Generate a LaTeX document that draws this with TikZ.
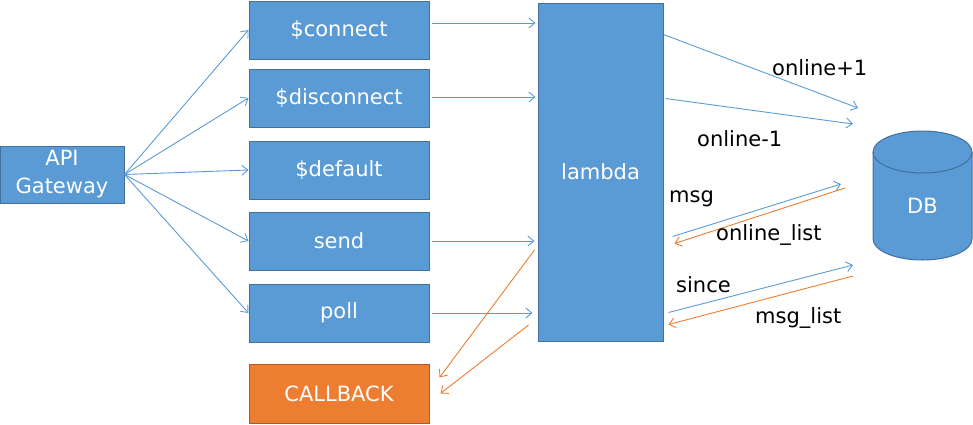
\documentclass[tikz,border=0pt]{standalone}
\usepackage{fontspec}
\setmainfont{DejaVu Sans}
\usetikzlibrary{arrows.meta}
\definecolor{boxblue}{HTML}{5B9BD5}
\definecolor{boxedge}{HTML}{41719C}
\definecolor{boxorange}{HTML}{ED7D31}
\definecolor{orangeedge}{HTML}{AE5A21}
\tikzset{
  box/.style={rectangle, draw=boxedge, fill=boxblue, line width=1pt, text=white,
    minimum width=180pt, minimum height=58pt, inner sep=0pt, align=center,
    font=\fontsize{21}{28}\selectfont},
  obox/.style={box, draw=orangeedge, fill=boxorange},
  lbl/.style={anchor=base west, inner sep=0pt, text=black, font=\fontsize{21}{24}\selectfont},
  barrow/.style={draw=boxblue, line width=0.9pt, -{Straight Barb[length=6pt,width=10pt]}},
  oarrow/.style={draw=boxorange, line width=0.9pt, -{Straight Barb[length=6pt,width=10pt]}},
}
\begin{document}
\begin{tikzpicture}[x=1pt,y=-1pt]
\useasboundingbox (0,0) rectangle (973,424);
% nodes
\node[box, minimum width=124pt, minimum height=57pt] (api) at (62,174.5) {API\\Gateway};
\node[box] (connect) at (339,30) {\$connect};
\node[box] (disconnect) at (339,98) {\$disconnect};
\node[box] (default) at (339,170) {\$default};
\node[box] (send) at (339,241) {send};
\node[box] (poll) at (339,313) {poll};
\node[obox, minimum height=59pt] (callback) at (339,393.5) {CALLBACK};
\node[box, minimum width=125pt, minimum height=338pt] (lambda) at (600.5,172) {lambda};
% DB cylinder
\fill[boxblue] (873,152) -- (873,239) arc[start angle=180, end angle=360, x radius=49.5pt, y radius=21pt] -- (972,152) arc[start angle=0, end angle=180, x radius=49.5pt, y radius=21pt] -- cycle;
\draw[boxedge, line width=1pt] (873,152) -- (873,239) arc[start angle=180, end angle=360, x radius=49.5pt, y radius=21pt] -- (972,152);
\draw[boxedge, line width=1pt] (922.5,152) ellipse[x radius=49.5pt, y radius=21pt];
\node[inner sep=0pt, text=white, font=\fontsize{21}{24}\selectfont] (db) at (922.5,206) {DB};
% coordinates near DB
\coordinate (d1) at (858,108);
\coordinate (d2) at (853,124);
\coordinate (d3) at (841,184);
\coordinate (d4) at (845,188);
\coordinate (d5) at (853,265);
\coordinate (d6) at (853,276);
% API to boxes
\foreach \n in {connect,disconnect,default,send,poll}
  \draw[barrow] (api.east) -- (\n.west);
% boxes to lambda
\draw[barrow] ([xshift=2pt,yshift=7pt]connect.east) -- ([xshift=-2pt,yshift=7pt]connect.east -| lambda.west);
\draw[barrow] ([xshift=2pt,yshift=1pt]disconnect.east) -- ([xshift=-2pt,yshift=1pt]disconnect.east -| lambda.west);
\draw[barrow] ([xshift=2pt]send.east) -- ([xshift=-3pt]send.east -| lambda.west);
\draw[barrow] ([xshift=2pt]poll.east) -- ([xshift=-5pt]poll.east -| lambda.west);
% lambda to callback
\draw[oarrow] ([xshift=-3pt,yshift=-9pt]send.east -| lambda.west) -- ([xshift=10pt,yshift=16pt]callback.east);
\draw[oarrow] ([xshift=-9pt,yshift=-12pt]poll.east -| lambda.west) -- ([xshift=11pt]callback.east);
% lambda <-> DB
\draw[barrow] ([yshift=-32pt]lambda.north east) -- (d1);
\draw[barrow] ([xshift=2pt,yshift=-96pt]lambda.north east) -- (d2);
\draw[barrow] ([xshift=9pt,yshift=-234pt]lambda.north east) -- (d3);
\draw[oarrow] (d4) -- ([xshift=11pt,yshift=-241pt]lambda.north east);
\draw[barrow] ([xshift=5pt,yshift=-310pt]lambda.north east) -- (d5);
\draw[oarrow] (d6) -- ([xshift=5pt,yshift=-322pt]lambda.north east);
% labels
\node[lbl] (l1) at (772,75) {online+1};
\node[lbl] (l2) at (697,146) {online-1};
\node[lbl] (l3) at (669,202) {msg};
\node[lbl] (l4) at (716,240) {online\_list};
\node[lbl] (l5) at (676,292) {since};
\node[lbl] (l6) at (755,323) {msg\_list};
\end{tikzpicture}
\end{document}
